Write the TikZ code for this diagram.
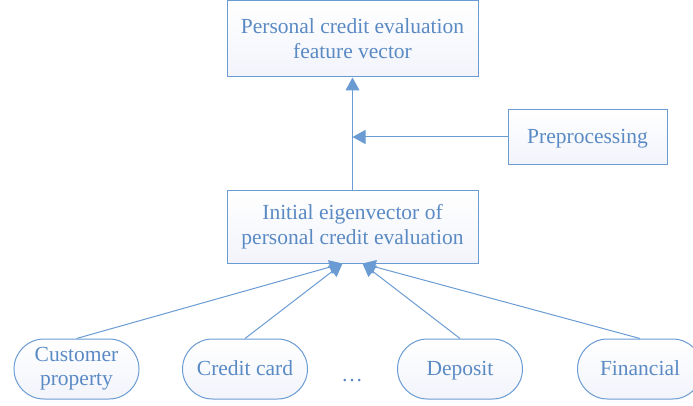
\documentclass[tikz,border=0pt]{standalone}
\usepackage{fontspec}
\setmainfont{Liberation Serif}
\usetikzlibrary{arrows.meta,shapes.misc}
\definecolor{lineblue}{HTML}{6A9BD3}
\definecolor{textblue}{HTML}{5A8AC4}
\definecolor{fillblue}{HTML}{F2F4FB}
\tikzset{
  box/.style={draw=lineblue, line width=1pt, top color=white, bottom color=fillblue,
    text=textblue, align=center, font=\fontsize{21.5}{25}\selectfont, inner sep=0pt},
  pill/.style={draw=lineblue, line width=1pt, top color=white, bottom color=fillblue,
    text=textblue, align=center, font=\fontsize{21.5}{24}\selectfont, rounded rectangle,
    minimum width=125pt, minimum height=60pt, inner sep=0pt},
  oneline/.style={text height=16pt, text depth=3pt},
  conn/.style={draw=lineblue, line width=1pt},
  arr/.style={conn, -{Triangle[length=13pt,width=14pt]}}
}
\begin{document}
\begin{tikzpicture}[x=1pt,y=1pt]
\useasboundingbox (0,0) rectangle (693,405);
\node[box, minimum width=251pt, minimum height=76pt] (top) at (352.5,366) {Personal credit evaluation\\feature vector};
\node[box, oneline, minimum width=159pt, minimum height=54pt] (pre) at (587.5,268) {Preprocessing};
\node[box, minimum width=251pt, minimum height=73pt] (init) at (352.5,178.5) {Initial eigenvector of\\personal credit evaluation};
\node[pill] (cust) at (76.5,36) {Customer\\property};
\node[pill, oneline] (card) at (245,36) {Credit card};
\node[pill, oneline] (dep) at (460,36) {Deposit};
\node[pill, oneline] (fin) at (640,36) {Financial};
\node[text=textblue, font=\fontsize{21.5}{24}\selectfont, oneline] (dots) at (352,30) {\dots};
\coordinate (inL) at ([xshift=-10pt]init.south);
\coordinate (inR) at ([xshift=10pt]init.south);
\coordinate (join) at (init.north |- pre.west);
\draw[arr] (init.north) -- (top.south);
\draw[arr] (pre.west) -- (join);
\draw[arr] (cust.north) -- (inL);
\draw[arr] (card.north) -- (inL);
\draw[arr] (dep.north) -- (inR);
\draw[arr] (fin.north) -- (inR);
\end{tikzpicture}
\end{document}
